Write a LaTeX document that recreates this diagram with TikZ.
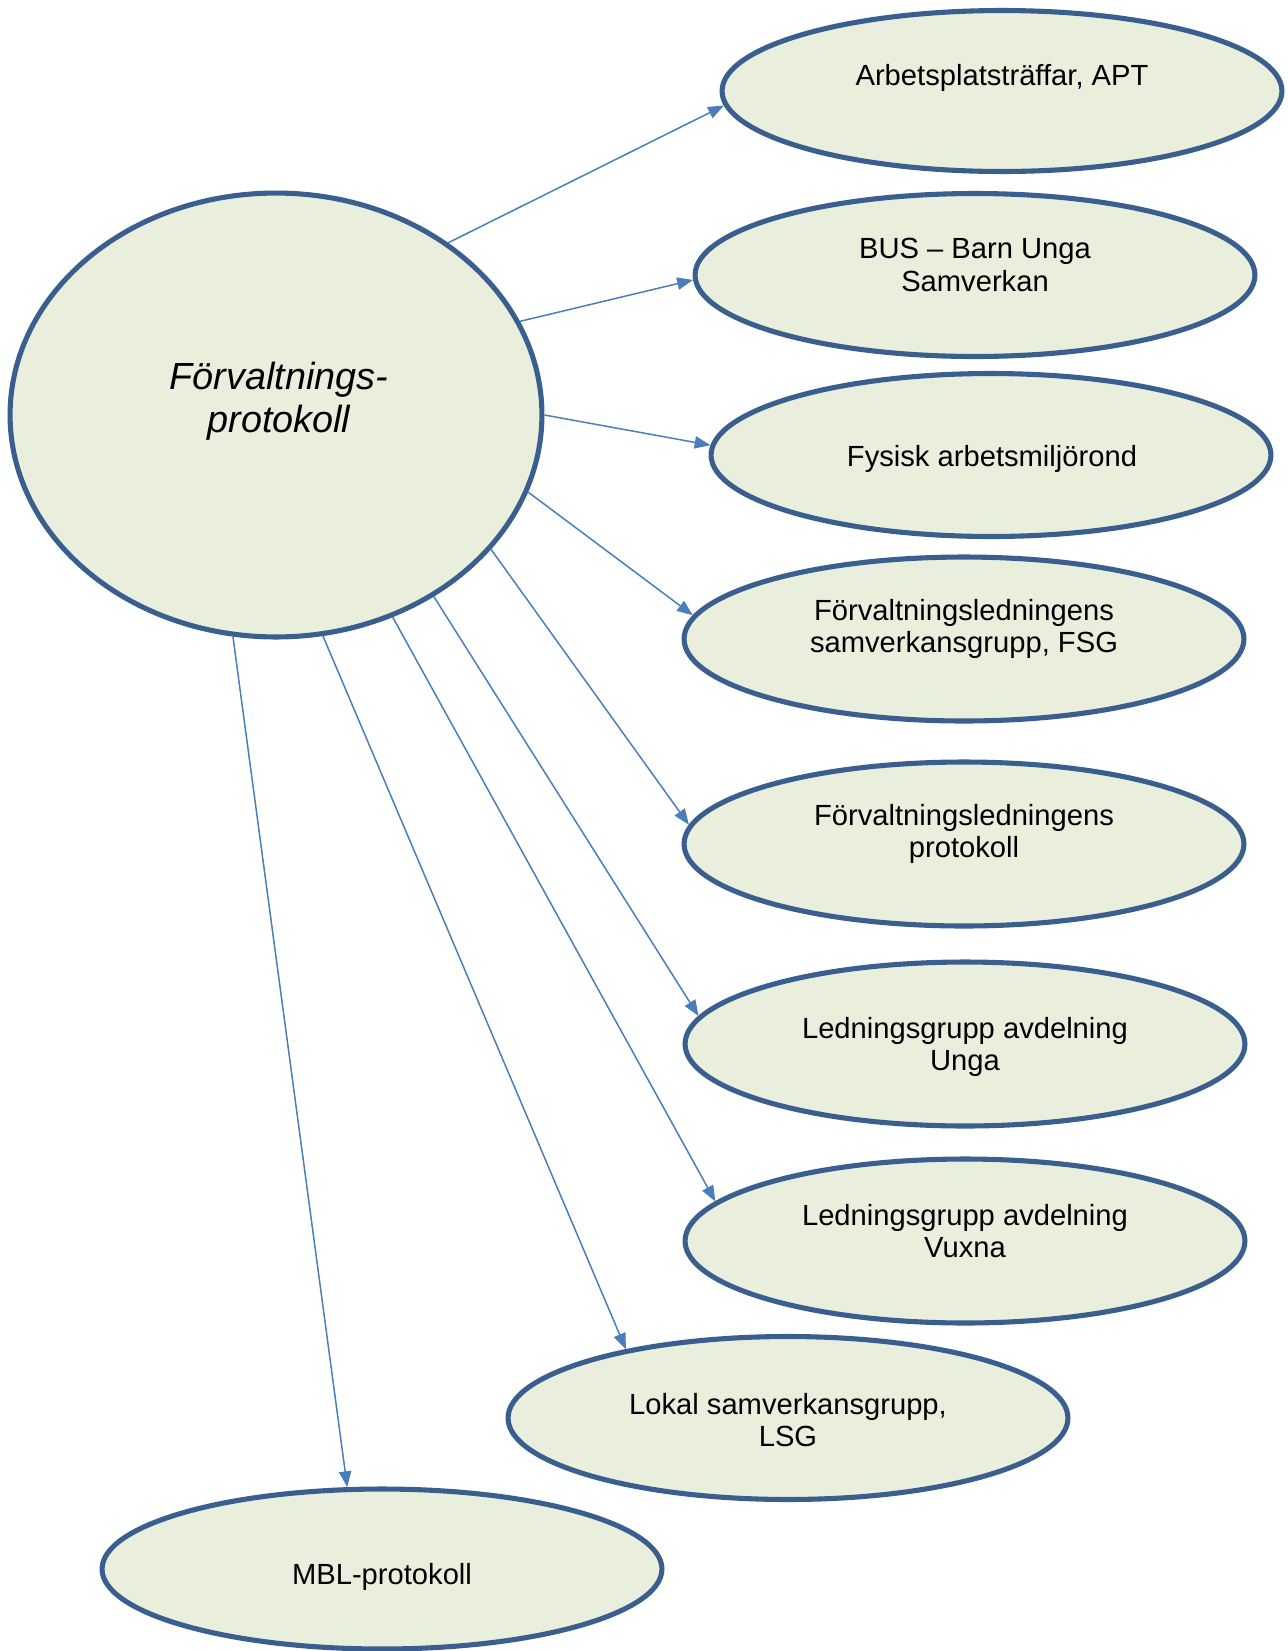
\documentclass[tikz,border=0pt]{standalone}
\usepackage{fontspec}
\setmainfont{Liberation Sans}
\usetikzlibrary{shapes.geometric}
\usetikzlibrary{arrows.meta}

\definecolor{rimblue}{HTML}{3A5F8F}
\definecolor{paleolive}{HTML}{EAEFDD}
\definecolor{arrowblue}{HTML}{4A7EBB}

\tikzset{
  oval/.style={ellipse, draw=rimblue, fill=paleolive, line width=2.9pt, inner sep=0pt,
    minimum width=11.2cm, minimum height=3.26cm},
  lbl/.style={align=center, font=\fontsize{16.6}{18.3}\selectfont},
  link/.style={arrowblue, line width=0.85pt, -{Triangle[length=9pt,width=7pt]}}
}

\begin{document}
\begin{tikzpicture}[x=0.02cm,y=-0.02cm]

\useasboundingbox (0,0) rectangle (1288,1651);

\node[oval, minimum width=10.64cm, minimum height=8.88cm] (main) at (276,415) {};
\node[align=center, font=\fontsize{21.5}{24.5}\selectfont\itshape] (main-text) at (279,401) {Förvaltnings-\\protokoll};

\node[oval, minimum height=3.22cm] (apt) at (1002,91) {};
\node[oval] (bus) at (975,275) {};
\node[oval] (fysisk) at (991,455) {};
\node[oval, minimum height=3.28cm] (fsg) at (964,639) {};
\node[oval, minimum height=3.28cm] (flprot) at (964,844) {};
\node[oval, minimum height=3.28cm] (unga) at (965,1044) {};
\node[oval, minimum height=3.28cm] (vuxna) at (965,1241) {};
\node[oval] (lsg) at (788,1418) {};
\node[oval, minimum height=3.2cm] (mbl) at (382,1569) {};

\node[lbl] (apt-text) at (1002,78) {Arbetsplatsträffar, APT};
\node[lbl] (bus-text) at (975,265) {BUS – Barn Unga\\Samverkan};
\node[lbl] (fysisk-text) at (992,459) {Fysisk arbetsmiljörond};
\node[lbl] (fsg-text) at (964,629) {Förvaltningsledningens\\samverkansgrupp, FSG};
\node[lbl] (flprot-text) at (964,834) {Förvaltningsledningens\\protokoll};
\node[lbl] (unga-text) at (965,1047) {Ledningsgrupp avdelning\\Unga};
\node[lbl] (vuxna-text) at (965,1231) {Ledningsgrupp avdelning\\Vuxna};
\node[lbl] (lsg-text) at (788,1420) {Lokal samverkansgrupp,\\LSG};
\node[lbl] (mbl-text) at (382,1577) {MBL-protokoll};

\draw[link] (main.45) -- (apt.183);
\draw[link] (main.21) -- (bus.181);
\draw[link] (main.0) -- (fysisk.178);
\draw[link] (main.343) -- (fsg.175);
\draw[link] (main.328) -- (flprot.176);
\draw[link] (main.311) -- (unga.174);
\draw[link] (main.300) -- (vuxna.171);
\draw[link] (main.282) -- (lsg.157);
\draw[link] (main.259) -- (mbl.113);

\end{tikzpicture}
\end{document}
